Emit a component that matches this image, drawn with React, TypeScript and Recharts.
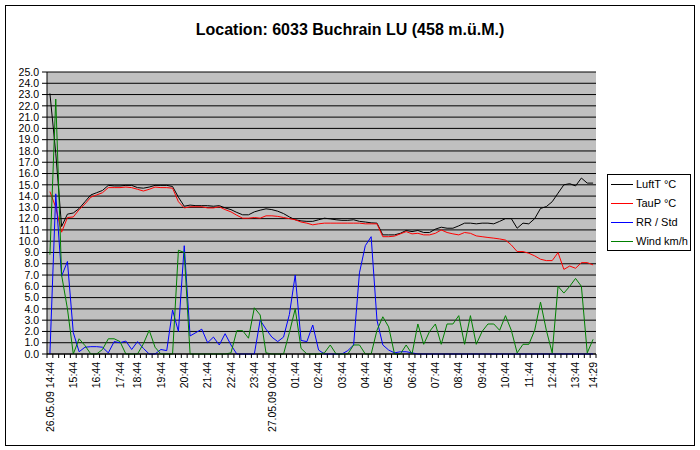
import React from 'react';
import { LineChart, Line, XAxis, YAxis, CartesianGrid, Legend } from 'recharts';

// Category labels (only the hourly ones are printed)
const categories: string[] = [
  '26.05.09 14:44', '', '', '', '15:44', '', '', '', '16:44', '', '', '', '17:44', '', '', '18:44',
  '', '', '', '19:44', '', '', '', '20:44', '', '', '', '21:44', '', '', '', '22:44', '', '', '',
  '23:44', '', '', '27.05.09 00:44', '', '', '', '01:44', '', '', '', '02:44', '', '', '', '03:44',
  '', '', '', '04:44', '', '', '', '05:44', '', '', '', '06:44', '', '', '', '07:44', '', '', '',
  '08:44', '', '', '', '09:44', '', '', '', '10:44', '', '', '', '11:44', '', '', '', '12:44', '',
  '', '', '13:44', '', '', '14:29',
];

const luftT: number[] = [
  23.1, 17.8, 11.3, 12.4, 12.5, 12.9, 13.5, 14.1, 14.3, 14.5, 14.95, 14.9, 14.9, 14.95, 14.95, 14.75,
  14.7, 14.8, 14.95, 14.95, 14.95, 14.85, 13.9, 13.1, 13.2, 13.15, 13.15, 13.15, 13.1, 13.15, 12.95,
  12.8, 12.55, 12.34, 12.34, 12.6, 12.75, 12.87, 12.8, 12.66, 12.45, 12.15, 11.9, 11.8, 11.76, 11.76,
  11.9, 12.04, 11.98, 11.9, 11.85, 11.85, 11.9, 11.76, 11.7, 11.63, 11.6, 10.56, 10.56, 10.56, 10.7,
  10.95, 10.85, 10.95, 10.77, 10.77, 11.07, 11.24, 11.15, 11.15, 11.36, 11.6, 11.6, 11.54, 11.6, 11.6,
  11.54, 11.76, 12.0, 12.0, 11.15, 11.6, 11.54, 12.0, 12.9, 13.07, 13.5, 14.26, 15.0, 15.1, 14.9, 15.6,
  15.15, 15.15,
];

const tauP: number[] = [
  14.4, 13.0, 10.8, 12.1, 12.15, 12.8, 13.3, 13.9, 14.1, 14.3, 14.75, 14.75, 14.75, 14.8, 14.75, 14.6,
  14.45, 14.6, 14.8, 14.75, 14.75, 14.7, 13.5, 12.95, 13.05, 13.05, 13.05, 12.95, 12.95, 13.05, 12.8,
  12.6, 12.3, 12.04, 12.04, 12.1, 12.04, 12.25, 12.25, 12.2, 12.1, 12.0, 11.9, 11.7, 11.6, 11.45,
  11.54, 11.6, 11.6, 11.6, 11.6, 11.6, 11.6, 11.6, 11.54, 11.54, 11.54, 10.4, 10.4, 10.45, 10.65,
  10.85, 10.65, 10.7, 10.56, 10.56, 10.7, 11.0, 10.77, 10.65, 10.56, 10.77, 10.7, 10.47, 10.4, 10.33,
  10.27, 10.2, 10.1, 9.67, 9.08, 9.08, 8.93, 8.7, 8.4, 8.28, 8.28, 8.99, 7.5, 7.8, 7.6, 8.1, 8.1, 7.9,
];

const rrStd: number[] = [
  0.0, 14.2, 6.9, 8.2, 1.9, 0.2, 0.6, 0.65, 0.65, 0.6, 0.1, 1.1, 1.0, 1.15, 0.4, 1.1, 0.5, 0.0, 0.0,
  0.4, 0.3, 3.9, 2.0, 9.6, 1.6, 1.9, 2.2, 1.0, 1.5, 0.8, 1.8, 0.8, 0.0, 0.0, 0.0, 0.0, 3.0, 2.2, 1.5,
  1.1, 1.5, 3.5, 7.0, 1.2, 1.1, 2.57, 0.35, 0, 0, 0, 0, 0.3, 0.8, 7.2, 9.6, 10.4, 3.0, 0.8, 0.35, 0.1,
  0.2, 0.2, 0.1, 0, 0, 0, 0, 0, 0, 0, 0, 0, 0, 0, 0, 0, 0, 0, 0, 0, 0, 0, 0, 0, 0, 0, 0, 0, 0, 0, 0,
  0, 0, 0,
];

const windKmh: number[] = [
  8.8, 22.6, 7.0, 4.0, 0.0, 1.35, 0.75, 0.0, 0.0, 0.4, 1.35, 1.35, 1.1, 0.0, 0.0, 0.0, 0.9, 2.1, 0.6,
  0.0, 0.0, 0.0, 9.2, 9.0, 0.0, 0, 0, 0, 0, 0, 0, 0.1, 2.07, 2.07, 1.4, 4.1, 3.46, 0.1, 0, 0, 0, 1.9,
  4.0, 0.5, 0, 0, 0, 0.1, 0.8, 0, 0, 0, 0.8, 0.8, 0, 0, 2.1, 3.3, 2.4, 0, 0, 0.8, 0, 2.66, 0.86, 2.0,
  2.66, 0.86, 2.66, 2.66, 3.4, 0.86, 3.4, 0.86, 2.0, 2.66, 2.66, 2.1, 3.4, 2.1, 0.1, 0.86, 0.86, 2.1,
  4.6, 2.1, 0.1, 6.0, 5.4, 6.0, 6.7, 6.0, 0.1, 1.3,
];

const yTicks: number[] = [0, 1, 2, 3, 4, 5, 6, 7, 8, 9, 10, 11, 12, 13, 14, 15, 16, 17, 18, 19, 20, 21, 22, 23, 24, 25];

const seriesNames = ['LuftT °C', 'TauP °C', 'RR / Std', 'Wind km/h'];
const seriesColors = ['#000000', '#FF0000', '#0000FF', '#008000'];

const data = categories.map((c, i) => ({
  idx: i,
  luftT: luftT[i],
  tauP: tauP[i],
  rr: rrStd[i],
  wind: windKmh[i],
}));

const FONT = "Arial, 'Liberation Sans', sans-serif";
const PLOT_W = 549;
const HALF = PLOT_W / categories.length / 2;

const XTick = (props: any) => {
  const { x, y, payload } = props;
  const i = payload.value as number;
  const label = categories[i];
  return (
    <g>
      <line x1={x - HALF} y1={y} x2={x - HALF} y2={y + 4} stroke="#000" />
      {i === categories.length - 1 && (
        <line x1={x + HALF} y1={y} x2={x + HALF} y2={y + 4} stroke="#000" />
      )}
      {label && (
        <text
          transform={`translate(${x},${y + 8}) rotate(-90)`}
          textAnchor="end"
          dy="0.35em"
          fontSize={10.5}
          fontFamily={FONT}
          fill="#000"
        >
          {label}
        </text>
      )}
    </g>
  );
};

const LegendBox = () => (
  <svg width={84} height={77} style={{ display: 'block' }}>
    <rect x={0.5} y={0.5} width={83} height={76} fill="#fff" stroke="#000" />
    {seriesNames.map((n, k) => (
      <g key={n}>
        <line x1={4} x2={26} y1={10.5 + k * 19} y2={10.5 + k * 19} stroke={seriesColors[k]} />
        <text x={29} y={10.5 + k * 19} dy="0.35em" fontSize={11} fontFamily={FONT} fill="#000">
          {n}
        </text>
      </g>
    ))}
  </svg>
);

export default function App() {
  return (
    <div style={{ position: 'absolute', left: 0, top: 0, width: 700, height: 450, background: '#fff' }}>
      <div
        style={{
          position: 'absolute',
          left: 5,
          top: 5,
          width: 690,
          height: 441,
          border: '1px solid #000',
          boxSizing: 'border-box',
        }}
      />
      <div
        style={{
          position: 'absolute',
          left: 0,
          top: 22,
          width: 700,
          textAlign: 'center',
          fontFamily: FONT,
          fontWeight: 'bold',
          fontSize: 16,
          lineHeight: '16px',
          color: '#000',
        }}
      >
        Location: 6033 Buchrain LU (458 m.ü.M.)
      </div>
      <div style={{ position: 'absolute', left: 0, top: 0 }}>
        <LineChart width={700} height={450} data={data} margin={{ top: 72, right: 104, bottom: 0, left: 0 }}>
          <CartesianGrid horizontal vertical={false} stroke="#000" strokeOpacity={1} fill="#C0C0C0" fillOpacity={1} />
          <XAxis
            dataKey="idx"
            type="category"
            height={96}
            interval={0}
            tickSize={0}
            tickMargin={0}
            tickLine={false}
            axisLine={{ stroke: '#000' }}
            padding={{ left: HALF, right: HALF }}
            tick={<XTick />}
          />
          <YAxis
            width={47}
            domain={[0, 25]}
            ticks={yTicks}
            interval={0}
            tickSize={5}
            tickMargin={3}
            tickFormatter={(v: number) => v.toFixed(1)}
            tick={{ fontSize: 10.5, fontFamily: FONT, fill: '#000' }}
            axisLine={{ stroke: '#000' }}
            tickLine={{ stroke: '#000' }}
          />
          <Legend
            layout="vertical"
            align="center"
            verticalAlign="middle"
            content={() => <LegendBox />}
            wrapperStyle={{ left: 607, top: 174, width: 84, height: 77 }}
          />
          <Line dataKey="luftT" name={seriesNames[0]} stroke={seriesColors[0]} strokeWidth={1} dot={false} isAnimationActive={false} />
          <Line dataKey="tauP" name={seriesNames[1]} stroke={seriesColors[1]} strokeWidth={1} dot={false} isAnimationActive={false} />
          <Line dataKey="rr" name={seriesNames[2]} stroke={seriesColors[2]} strokeWidth={1} dot={false} isAnimationActive={false} />
          <Line dataKey="wind" name={seriesNames[3]} stroke={seriesColors[3]} strokeWidth={1} dot={false} isAnimationActive={false} />
        </LineChart>
      </div>
    </div>
  );
}
